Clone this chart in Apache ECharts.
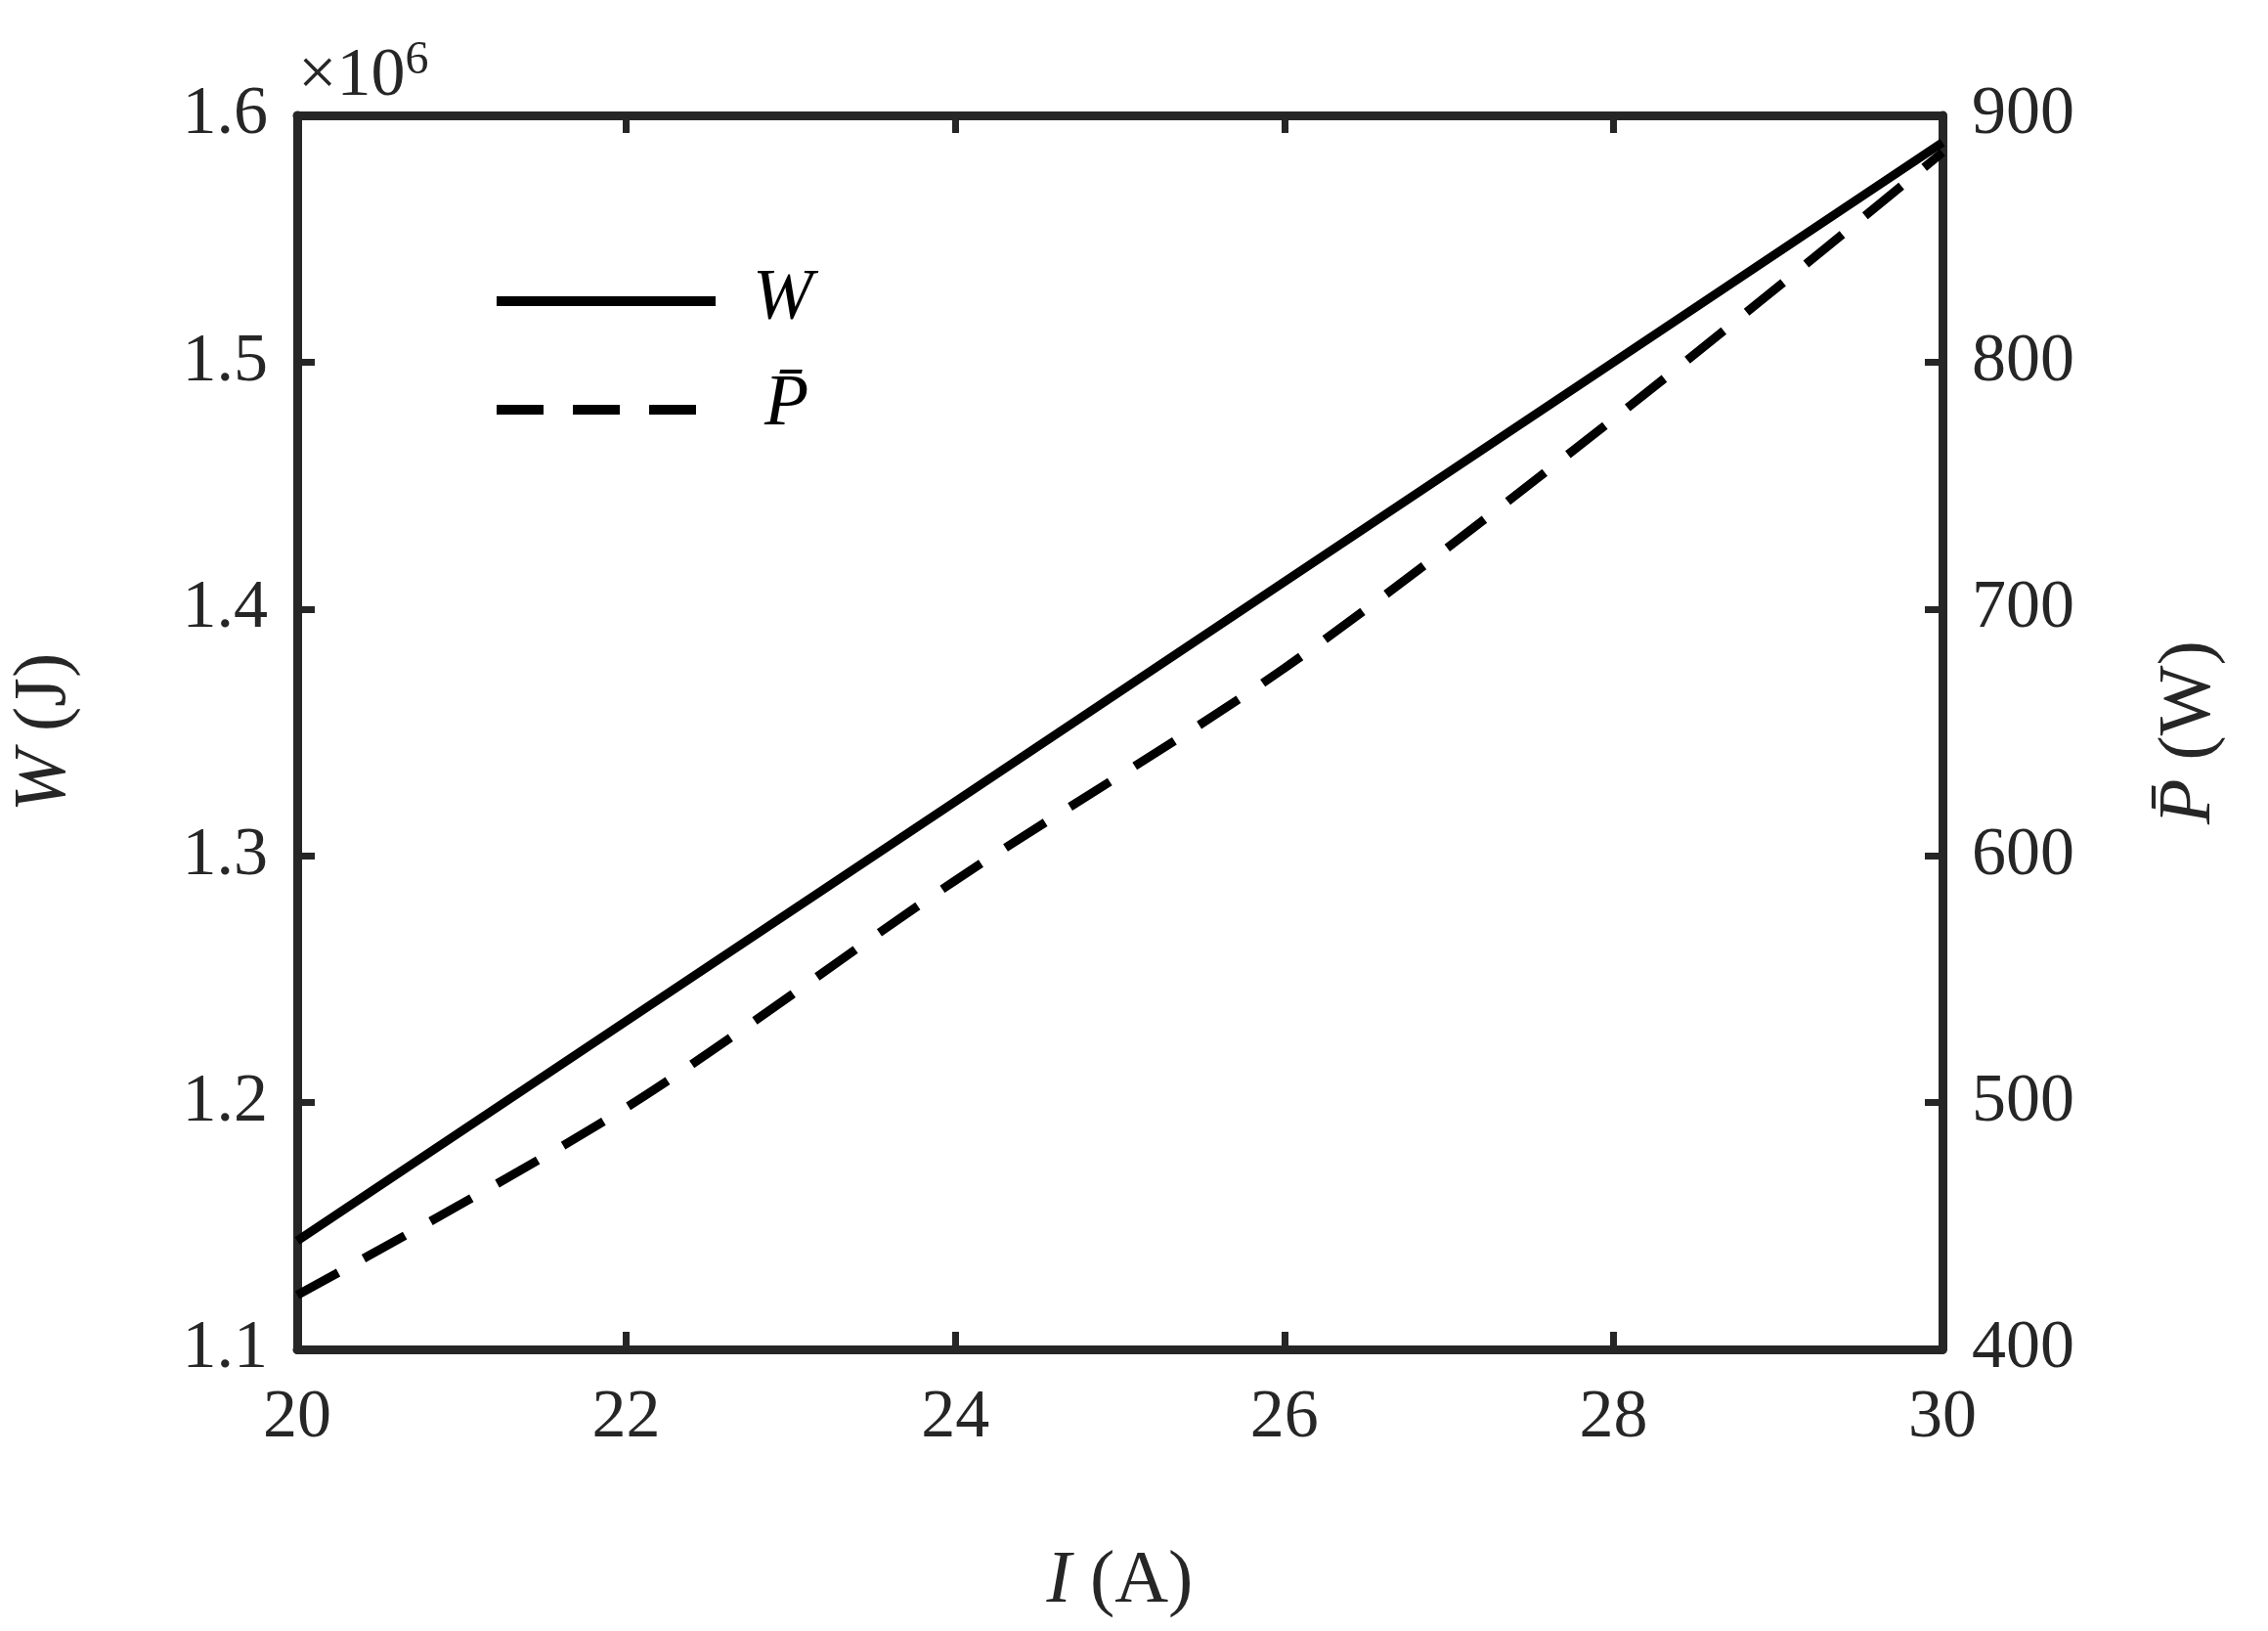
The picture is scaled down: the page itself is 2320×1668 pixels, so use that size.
<!DOCTYPE html>
<html><head><meta charset="utf-8">
<script src="https://cdn.jsdelivr.net/npm/echarts@6/dist/echarts.min.js"></script>
<style>html,body{margin:0;padding:0;background:#fff}#c{width:2320px;height:1668px}</style>
</head><body><div id="c"></div>
<script>
const currents = [20, 22, 24, 26, 28, 30];
const energyW = [1.144e6, 1.233e6, 1.322e6, 1.411e6, 1.500e6, 1.589e6];
const powerP = [422, 498, 590, 676, 777, 885];
const xTicks = [20, 22, 24, 26, 28, 30];
const F = 'Liberation Serif';
const axC = '#262626';
const FS = 70;
const chart = echarts.init(document.getElementById('c'));
chart.setOption({
  animation:false,
  grid:{left:300,right:333,top:118,bottom:288},
  xAxis:[{type:'value',min:20,max:30,interval:2,position:'bottom',
    axisLine:{lineStyle:{color:axC,width:9}},
    axisTick:{inside:true,length:18,lineStyle:{color:axC,width:7}},
    axisLabel:{fontFamily:F,fontSize:FS,color:'#262626',margin:36},
    splitLine:{show:false},
    name:'{i|I} (A)',nameLocation:'middle',nameGap:200,
    nameTextStyle:{fontFamily:F,fontSize:76,color:'#262626',rich:{i:{fontStyle:'italic',fontFamily:F,fontSize:76}}}},
   {type:'value',min:20,max:30,interval:2,position:'top',
    axisLine:{lineStyle:{color:axC,width:9}},
    axisTick:{inside:true,length:18,lineStyle:{color:axC,width:7}},
    axisLabel:{show:false},splitLine:{show:false}}],
  yAxis:[{type:'value',min:1.1e6,max:1.6e6,interval:1e5,position:'left',
    axisLine:{show:true,lineStyle:{color:axC,width:9}},
    axisTick:{show:true,inside:true,length:18,lineStyle:{color:axC,width:7}},
    axisLabel:{fontFamily:F,fontSize:FS,color:'#262626',margin:30,formatter:v=>(v/1e6).toFixed(1)},
    splitLine:{show:false},
    name:'{i|W} (J)',nameLocation:'middle',nameGap:220,nameRotate:90,
    nameTextStyle:{fontFamily:F,fontSize:76,color:'#262626',rich:{i:{fontStyle:'italic',fontFamily:F,fontSize:76}}}},
   {type:'value',min:400,max:900,interval:100,position:'right',
    axisLine:{show:true,lineStyle:{color:axC,width:9}},
    axisTick:{show:true,inside:true,length:18,lineStyle:{color:axC,width:7}},
    axisLabel:{fontFamily:F,fontSize:FS,color:'#262626',margin:30},
    splitLine:{show:false},
    name:'{i|P\u0304} (W)',nameLocation:'middle',nameGap:215,nameRotate:90,
    nameTextStyle:{fontFamily:F,fontSize:76,color:'#262626',rich:{i:{fontStyle:'italic',fontFamily:F,fontSize:76}}}}],
  graphic:[
    {type:'text',left:305,top:38,style:{text:'×10{s|6}',fontFamily:F,fontSize:70,fill:'#262626',
      rich:{s:{fontSize:48,verticalAlign:'top',padding:[0,0,34,0],fontFamily:F}}}},
    {type:'line',shape:{x1:508,y1:308,x2:732,y2:308},style:{stroke:'#000',lineWidth:10}},
    {type:'line',shape:{x1:508,y1:419,x2:732,y2:419},style:{stroke:'#000',lineWidth:10,lineDash:[48,30]}},
    {type:'text',left:770,top:270,style:{text:'W',fontFamily:F,fontSize:74,fontStyle:'italic',fill:'#000'}},
    {type:'text',left:782,top:378,style:{text:'P\u0304',fontFamily:F,fontSize:74,fontStyle:'italic',fill:'#000'}}
  ],
  series:[
    {name:'W',type:'line',yAxisIndex:0,showSymbol:false,symbol:'none',
     data:currents.map((x,i)=>[x,energyW[i]]),lineStyle:{color:'#000',width:9}},
    {name:'P\u0304',type:'line',yAxisIndex:1,showSymbol:false,symbol:'none',smooth:0.3,
     data:currents.map((x,i)=>[x,powerP[i]]),lineStyle:{color:'#000',width:9,type:[48,30]}}
  ]
});
</script></body></html>
